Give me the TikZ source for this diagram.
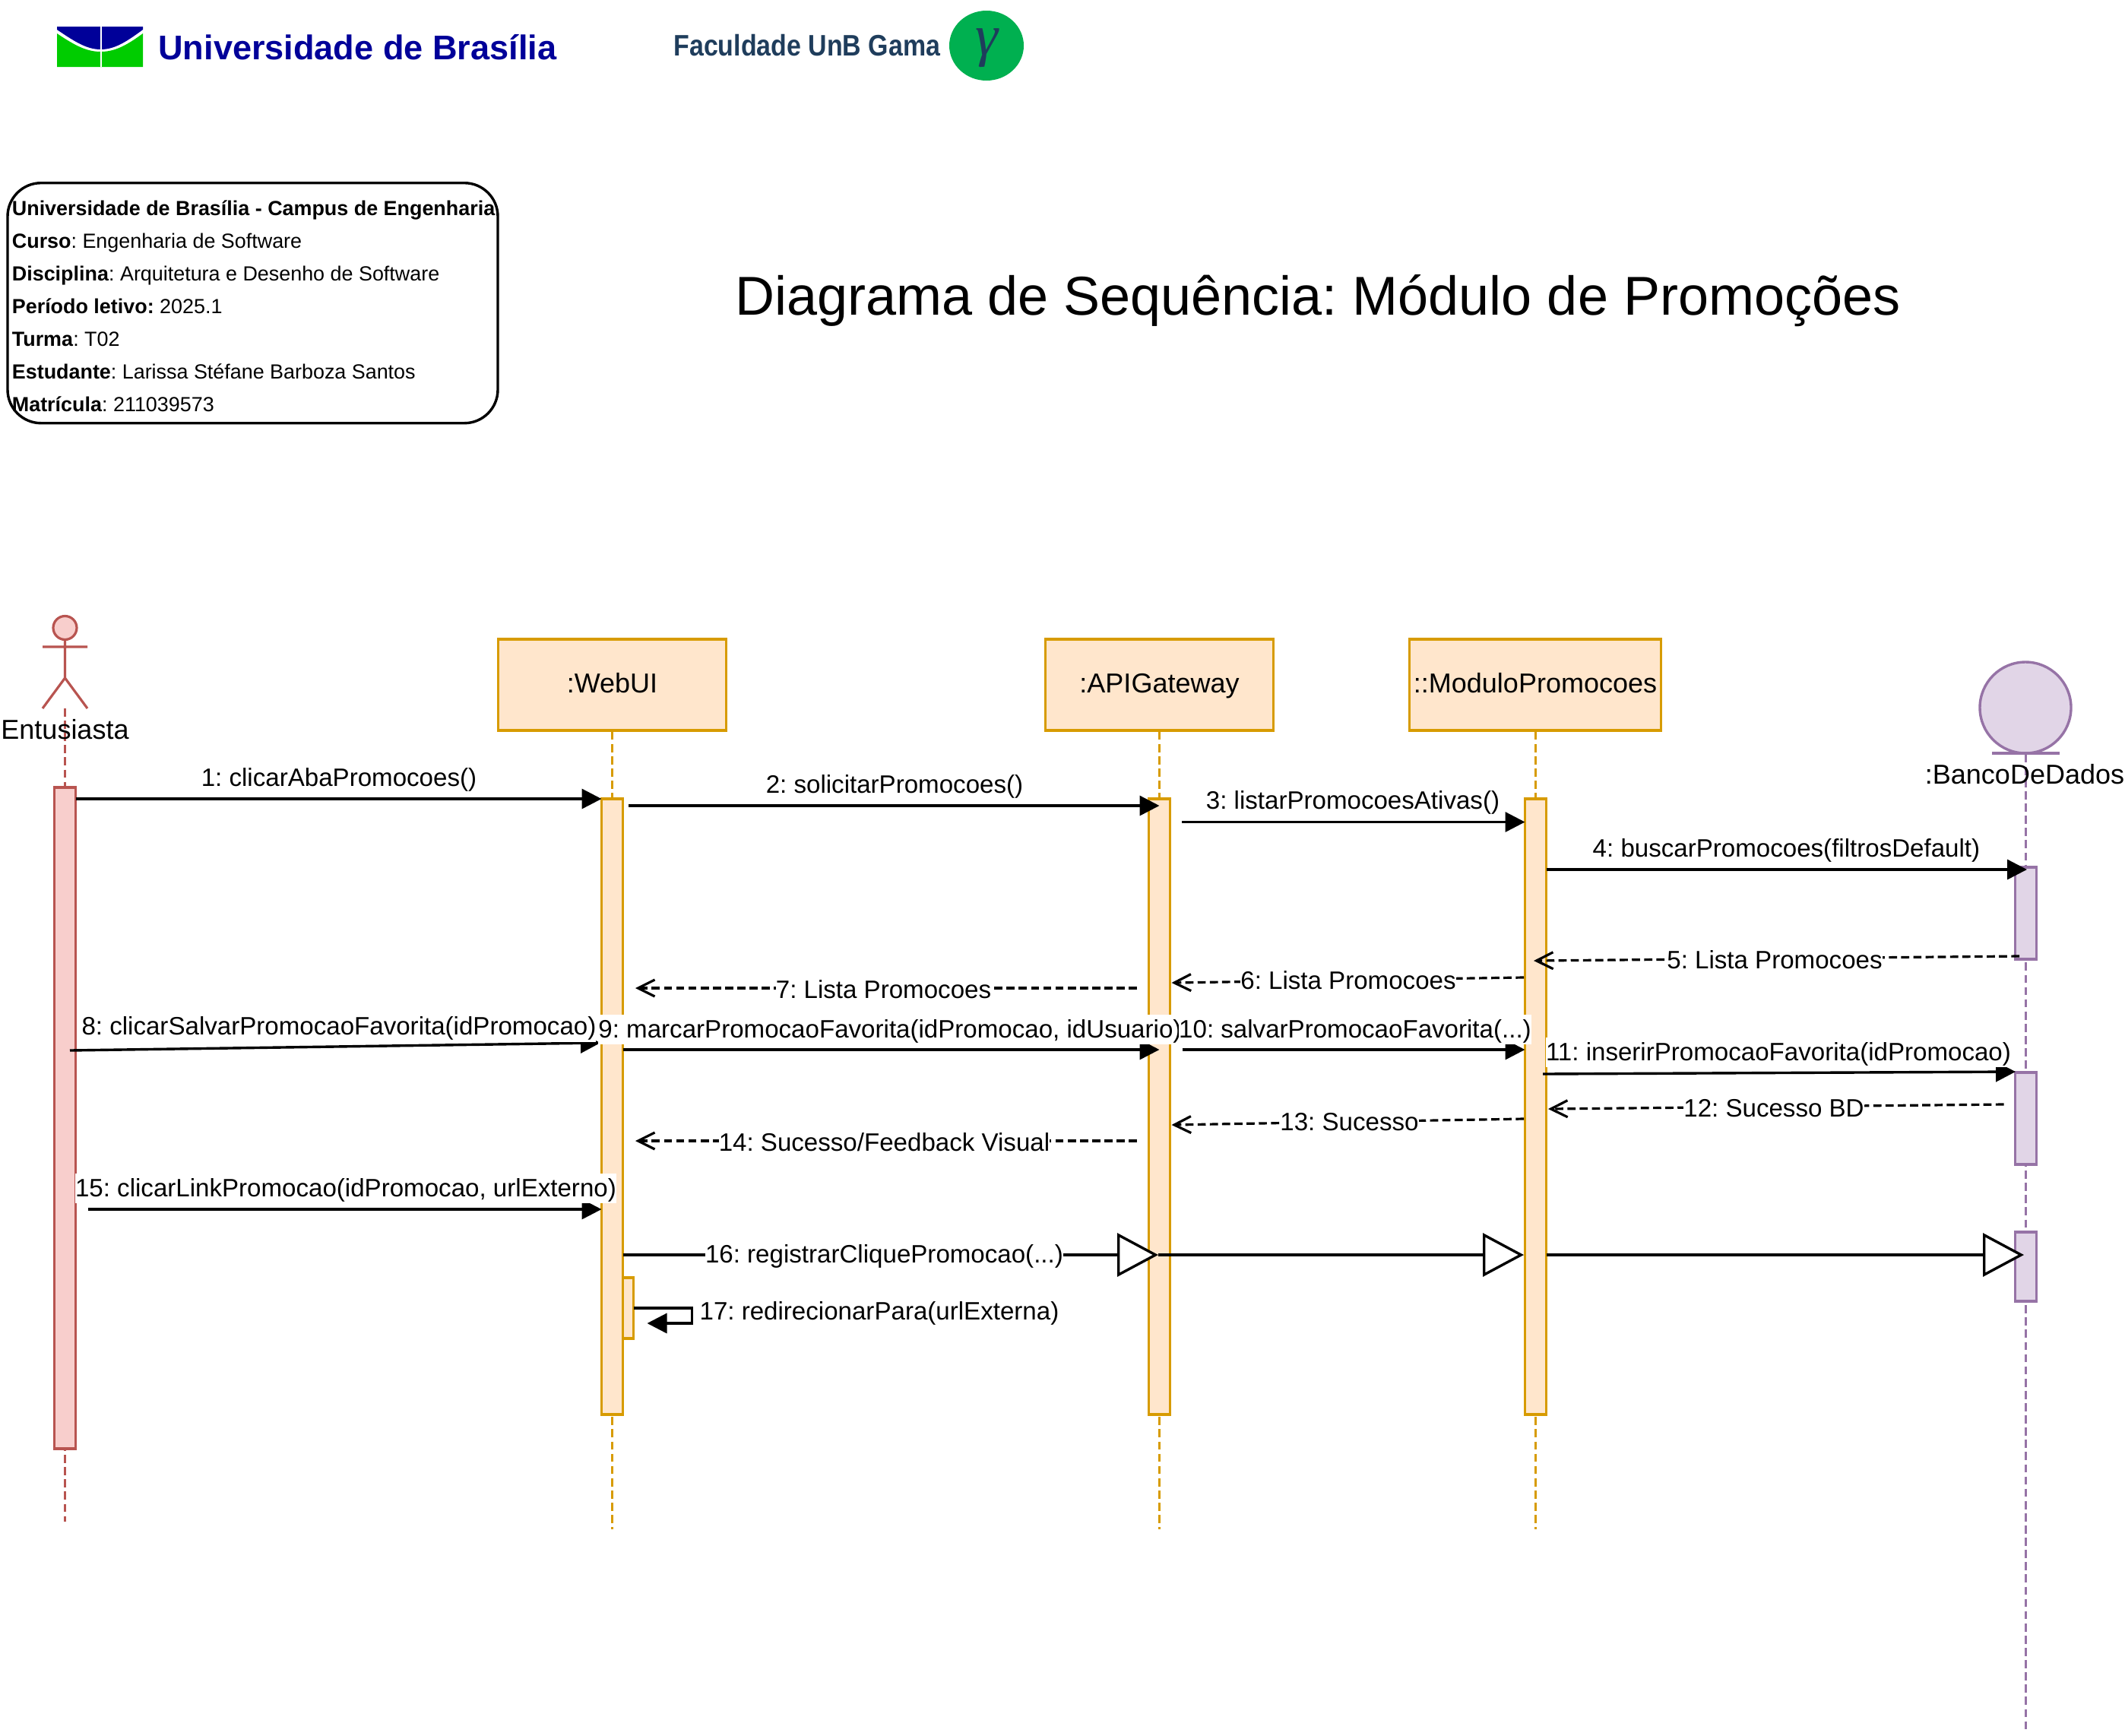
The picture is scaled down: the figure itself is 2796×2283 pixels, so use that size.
\documentclass[tikz,border=0pt]{standalone}
\usepackage{fontspec}
\setmainfont{Liberation Sans}
\newfontfamily\gammafont{Liberation Serif}
\usetikzlibrary{arrows.meta,shapes.geometric}
\definecolor{pinkfill}{HTML}{F8CECC}
\definecolor{pinkline}{HTML}{B85450}
\definecolor{orangefill}{HTML}{FFE6CC}
\definecolor{orangeline}{HTML}{D79B00}
\definecolor{purplefill}{HTML}{E1D5E7}
\definecolor{purpleline}{HTML}{9673A6}
\definecolor{unbblue}{HTML}{000099}
\definecolor{unbgreen}{HTML}{00CC00}
\definecolor{fgablue}{HTML}{1F3D5C}
\definecolor{fgagreen}{HTML}{00B050}
\frenchspacing
\tikzset{
	classbox/.style={draw=orangeline, fill=orangefill, line width=1.7pt, minimum width=150pt, minimum height=60pt, inner sep=0pt, text height=14pt, text depth=4pt, font=\fontsize{18}{20}\selectfont},
	bar/.style={draw=#1line, fill=#1fill, line width=1.7pt, minimum width=14pt, inner sep=0pt, outer sep=0pt},
	lifeline/.style={draw=#1line, line width=1.5pt, dash pattern=on 5.35pt off 2.7pt},
	actorlabel/.style={inner sep=0pt, font=\fontsize{18}{20}\selectfont},
	msglabel/.style={fill=white, inner sep=0pt, text height=15pt, text depth=4.5pt, font=\fontsize{16.55}{20}\selectfont},
	callmsg/.style={line width=1.7pt, -{Triangle[length=13pt, width=13pt]}},
	asyncmsg/.style={line width=1.7pt, -{Triangle[open, fill=white, length=27pt, width=28.5pt]}},
	replymsg/.style={line width=1.6pt, dash pattern=on 5.35pt off 2.7pt, -{Straight Barb[length=11pt, width=11pt, line width=1.6pt]}},
}
\begin{document}
\begin{tikzpicture}[x=0.5pt, y=-0.5pt]
	\useasboundingbox (0,0) rectangle (2796,2283);

	\fill[unbgreen] (75,44) .. controls (100,61) and (115,68) .. (132.5,68) .. controls (150,68) and (165,61) .. (188,44) -- (188,88) -- (75,88) -- cycle;
	\fill[unbblue] (75,35) -- (188,35) -- (188,39) .. controls (165,56) and (150,65) .. (132.5,65) .. controls (115,65) and (100,56) .. (75,39) -- cycle;
	\draw[white, line width=1pt] (132.5,35) -- (132.5,88);
	\node (unbtext) [anchor=west, inner sep=0pt, text=unbblue, font=\fontsize{22.55}{24}\selectfont\bfseries] at (208,62) {Universidade de Brasília};
	\node (fgatext) [anchor=west, inner sep=0pt, text=fgablue, font=\fontsize{19.5}{22}\selectfont\bfseries] at (886,60) {\scalebox{0.87}[1]{Faculdade UnB Gama}};
	\node (fgalogo) [ellipse, fill=fgagreen, minimum width=49pt, minimum height=46pt, inner sep=0pt] at (1298,60) {};
	\node (fgagamma) [inner sep=0pt, text=fgablue, font=\fontsize{38}{40}\selectfont\gammafont\itshape] at (1298,63) {γ};

	\node (infobox) [draw, rounded corners=22pt, line width=1.7pt, minimum width=322.5pt, minimum height=158pt, inner sep=0pt] at (332.5,398.7) {};
	\node (infotext) [anchor=west, inner sep=0pt, align=left, font=\fontsize{13.45}{21.5}\selectfont] at (15.5,403) {\textbf{Universidade de Brasília - Campus de Engenharia}\\\textbf{Curso}: Engenharia de Software\\\textbf{Disciplina}: Arquitetura e Desenho de Software\\\textbf{Período letivo:} 2025.1\\\textbf{Turma}: T02\\\textbf{Estudante}: Larissa Stéfane Barboza Santos\\\textbf{Matrícula}: 211039573};
	\node (title) [anchor=base, inner sep=0pt, font=\fontsize{36}{42}\selectfont] at (1734,414) {Diagrama de Sequência: Módulo de Promoções};

	\coordinate (userend) at (85.5,2002);
	\coordinate (webend) at (805.5,2012);
	\coordinate (apiend) at (1525.5,2012);
	\coordinate (modend) at (2020,2012);
	\coordinate (dbend) at (2665,2277);

	\node (userhead) [circle, draw=pinkline, fill=pinkfill, line width=1.6pt, minimum size=15.5pt, inner sep=0pt] at (85.5,826) {};
	\draw[draw=pinkline, line width=1.6pt] (userhead.south) -- (85.5,892) -- (56,932) (85.5,892) -- (115,932) (56,851) -- (115,851);
	\coordinate (userfoot) at (85.5,932);
	\node (web) [classbox] at (805.5,901) {:WebUI};
	\node (api) [classbox] at (1525.5,901) {:APIGateway};
	\node (mod) [classbox, minimum width=165.5pt] at (2020,901) {::ModuloPromocoes};
	\node (dbcircle) [ellipse, draw=purpleline, fill=purplefill, line width=1.7pt, minimum width=60pt, minimum height=60pt, inner sep=0pt] at (2665,931) {};
	\draw[draw=purpleline, line width=1.7pt] (2621,991) -- (2710,991);

	\draw[lifeline=pink] (userfoot) -- (userend);
	\draw[lifeline=orange] (web.south) -- (webend);
	\draw[lifeline=orange] (api.south) -- (apiend);
	\draw[lifeline=orange] (mod.south) -- (modend);
	\draw[lifeline=purple] (dbcircle.south) -- (dbend);

	\node (user) [actorlabel] at (85.5,960) {Entusiasta};
	\node (db) [actorlabel] at (2664,1019) {:BancoDeDados};

	\node (actuser) [bar=pink, anchor=north, minimum height=435pt] at (85.5,1036) {};
	\node (actweb) [bar=orange, anchor=north, minimum height=405pt] at (805.5,1051) {};
	\node (actapi) [bar=orange, anchor=north, minimum height=405pt] at (1525.5,1051) {};
	\node (actmod) [bar=orange, anchor=north, minimum height=405pt] at (2020.5,1051) {};
	\node (actself) [bar=orange, anchor=north west, minimum width=7pt, minimum height=40pt] at (actweb.east|-0,1681) {};
	\node (actdba) [bar=purple, anchor=north, minimum height=60.5pt] at (2665.5,1141) {};
	\node (actdbb) [bar=purple, anchor=north, minimum height=60.5pt] at (2665.5,1411) {};
	\node (actdbc) [bar=purple, anchor=north, minimum height=45.5pt] at (2665.5,1621) {};

	\coordinate (m2start) at (826.5,1060);
	\coordinate (m3start) at (1555,1081.5);
	\coordinate (m4end) at (2667,1144);
	\coordinate (m5start) at (2657,1258);
	\coordinate (m5end) at (2018,1264);
	\coordinate (m6start) at (2005,1286);
	\coordinate (m6end) at (1541.5,1293);
	\coordinate (m7start) at (1496,1300);
	\coordinate (m7end) at (836,1300);
	\coordinate (m8start) at (92,1382);
	\coordinate (m8end) at (790,1372);
	\coordinate (m10start) at (1555.5,1381);
	\coordinate (m11start) at (2030,1413);
	\coordinate (m11end) at (2652,1410);
	\coordinate (m12start) at (2636.5,1453);
	\coordinate (m12end) at (2037,1459);
	\coordinate (m13start) at (2005,1472);
	\coordinate (m13end) at (1541.5,1480);
	\coordinate (m14start) at (1496,1501);
	\coordinate (m14end) at (836,1501);
	\coordinate (m15start) at (115.5,1591);
	\coordinate (m16a) at (1524,1651);
	\coordinate (m16b) at (2005,1651);
	\coordinate (m16c) at (2663,1651);
	\coordinate (m17a) at (910.5,1721);
	\coordinate (m17b) at (910.5,1741);
	\coordinate (m17c) at (851.5,1741);

	\draw[callmsg] (actuser.east|-0,1051) -- (actweb.west|-0,1051);
	\draw[callmsg] (m2start) -- (actapi.center|-m2start);
	\draw[callmsg] (m3start) -- (actmod.west|-m3start);
	\draw[callmsg] (actmod.east|-m4end) -- (m4end);
	\draw[replymsg] (m5start) -- (m5end);
	\draw[replymsg] (m6start) -- (m6end);
	\draw[replymsg] (m7start) -- (m7end);
	\draw[callmsg] (m8start) -- (m8end);
	\draw[callmsg] (actweb.east|-m10start) -- (actapi.center|-m10start);
	\draw[callmsg] (m10start) -- (actmod.west|-m10start);
	\draw[callmsg] (m11start) -- (m11end);
	\draw[replymsg] (m12start) -- (m12end);
	\draw[replymsg] (m13start) -- (m13end);
	\draw[replymsg] (m14start) -- (m14end);
	\draw[callmsg] (m15start) -- (actweb.west|-m15start);
	\draw[asyncmsg] (actweb.east|-m16a) -- (m16a);
	\draw[asyncmsg] (m16a) -- (m16b);
	\draw[asyncmsg] (actmod.east|-m16c) -- (m16c);
	\draw[callmsg] (actself.east|-m17a) -- (m17a) -- (m17b) -- (m17c);

	\node (lab1) [msglabel] at (446,1024) {1: clicarAbaPromocoes()};
	\node (lab2) [msglabel] at (1177,1033) {2: solicitarPromocoes()};
	\node (lab3) [msglabel] at (1780,1054) {3: listarPromocoesAtivas()};
	\node (lab4) [msglabel] at (2350.5,1117) {4: buscarPromocoes(filtrosDefault)};
	\node (lab5) [msglabel] at (2335,1264) {5: Lista Promocoes};
	\node (lab6) [msglabel] at (1774,1291) {6: Lista Promocoes};
	\node (lab7) [msglabel] at (1162.5,1303) {7: Lista Promocoes};
	\node (lab8) [msglabel] at (446,1351) {8: clicarSalvarPromocaoFavorita(idPromocao)};
	\node (lab9) [msglabel] at (1171,1354.5) {9: marcarPromocaoFavorita(idPromocao, idUsuario)};
	\node (lab10) [msglabel] at (1783,1354.5) {10: salvarPromocaoFavorita(...)};
	\node (lab11) [msglabel] at (2340,1384.5) {11: inserirPromocaoFavorita(idPromocao)};
	\node (lab12) [msglabel] at (2334,1459) {12: Sucesso BD};
	\node (lab13) [msglabel] at (1775.5,1476.5) {13: Sucesso};
	\node (lab14) [msglabel] at (1163.5,1504) {14: Sucesso/Feedback Visual};
	\node (lab15) [msglabel] at (455,1563.5) {15: clicarLinkPromocao(idPromocao, urlExterno)};
	\node (lab16) [msglabel] at (1163.5,1650.5) {16: registrarCliquePromocao(...)};
	\node (lab17) [msglabel] at (1157,1725.5) {17: redirecionarPara(urlExterna)};
\end{tikzpicture}
\end{document}
